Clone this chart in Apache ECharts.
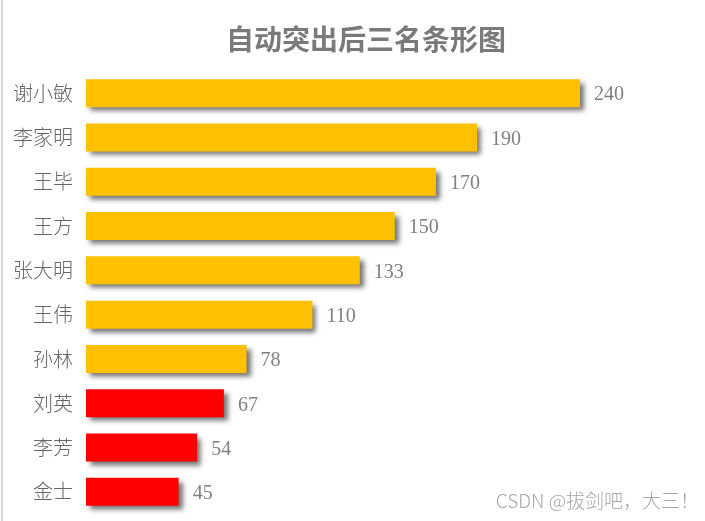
<!DOCTYPE html>
<html><head><meta charset="utf-8">
<script src="https://cdn.jsdelivr.net/npm/echarts@6/dist/echarts.min.js"></script>
<style>html,body{margin:0;padding:0;background:#fff}#c{width:705px;height:521px}</style>
</head><body><div id="c"></div>
<script>
const categories = ['谢小敏','李家明','王毕','王方','张大明','王伟','孙林','刘英','李芳','金士'];
const values = [240,190,170,150,133,110,78,67,54,45];
const highlightCount = 3;
const title = '自动突出后三名条形图';
const watermark = 'CSDN @拔剑吧，大三！';

const chart = echarts.init(document.getElementById('c'));
const data = values.map((v,i)=>({
  value:v,
  itemStyle:{color: i >= values.length - highlightCount ? '#FF0000' : '#FFC000'}
}));
chart.setOption({
  animation:false,
  title:{text:title,left:361,top:20,textAlign:'center',
    textStyle:{fontFamily:'Noto Sans CJK SC',fontWeight:'bold',fontSize:28,color:'#7a7a7a'}},
  grid:{left:86,right:125,top:71,bottom:7,containLabel:false},
  xAxis:{type:'value',min:0,max:240,show:false},
  yAxis:{type:'category',data:categories,inverse:true,
    axisLine:{show:false},axisTick:{show:false},
    axisLabel:{margin:13,fontFamily:'Noto Sans CJK SC',fontWeight:300,fontSize:20,color:'#666666'}},
  series:[{type:'bar',data:data,barWidth:28,
    itemStyle:{shadowColor:'rgba(0,0,0,0.55)',shadowBlur:5,shadowOffsetX:4,shadowOffsetY:4},
    label:{show:true,position:'right',distance:14,offset:[0,2],fontFamily:'Liberation Serif',fontSize:20,color:'#808080'}}],
  graphic:[
    {type:'rect',shape:{x:1,y:0,width:2,height:521},style:{fill:'#d9d9d9'},silent:true},
    {type:'text',right:6,top:491,style:{text:watermark,fontFamily:'Noto Sans CJK SC',fontWeight:300,fontSize:19,fill:'#a6a6a6'}}
  ]
});
</script></body></html>
